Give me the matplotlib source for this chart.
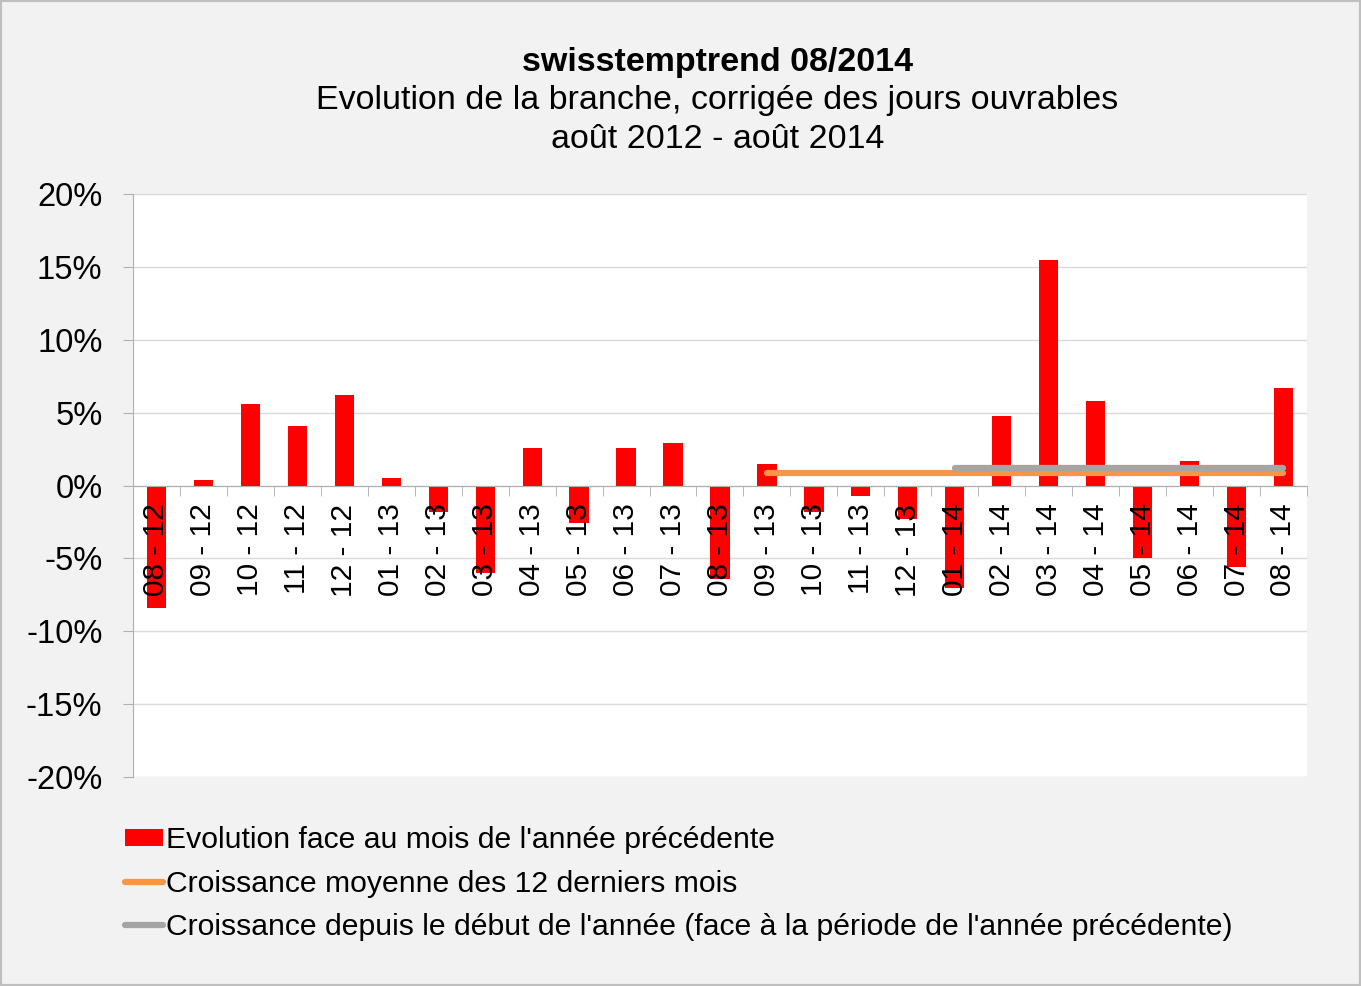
import matplotlib
matplotlib.use('Agg')
import matplotlib.pyplot as plt
from matplotlib.patches import Rectangle
from matplotlib.ticker import FixedLocator, FuncFormatter
import numpy as np

plt.rcParams['font.family'] = ['Liberation Sans', 'DejaVu Sans']

months = ['08 - 12', '09 - 12', '10 - 12', '11 - 12', '12 - 12', '01 - 13', '02 - 13',
          '03 - 13', '04 - 13', '05 - 13', '06 - 13', '07 - 13', '08 - 13', '09 - 13',
          '10 - 13', '11 - 13', '12 - 13', '01 - 14', '02 - 14', '03 - 14', '04 - 14',
          '05 - 14', '06 - 14', '07 - 14', '08 - 14']
evolution = [-8.4, 0.4, 5.6, 4.1, 6.2, 0.5, -1.8, -6.0, 2.6, -2.6, 2.6, 2.9, -6.4,
             1.5, -1.8, -0.7, -2.3, -7.0, 4.8, 15.5, 5.8, -5.0, 1.7, -5.6, 6.7]
avg12 = 0.86          # moyenne 12 derniers mois, 09-13 .. 08-14
ytd = 1.2             # depuis le debut de l'annee, 01-14 .. 08-14
avg12_from, ytd_from = '09 - 13', '01 - 14'

fig = plt.figure(figsize=(13.61, 9.86), dpi=100, facecolor='#f2f2f2')
fig.patches.append(Rectangle((0, 0), 1, 1, transform=fig.transFigure, fill=False,
                             edgecolor='#bfbfbf', linewidth=3))
ax = fig.add_axes([0.0977, 0.2120, 0.8626, 0.5912])
ax.set_facecolor('white')

yticks = np.arange(-20, 21, 5)
for yv in yticks:
    ax.axhline(yv, color='#d9d9d9', lw=1, zorder=0)

x = np.arange(len(months))
bars = ax.bar(x, evolution, width=0.41, color='#ff0000', zorder=1,
              label="Evolution face au mois de l'année précédente")
i0 = months.index(avg12_from)
l1, = ax.plot(x[i0:], [avg12] * len(x[i0:]), color='#f79646', lw=4.5, solid_capstyle='round',
              zorder=2, label='Croissance moyenne des 12 derniers mois')
i1 = months.index(ytd_from)
l2, = ax.plot(x[i1:], [ytd] * len(x[i1:]), color='#a5a5a5', lw=4.5, solid_capstyle='round',
              zorder=2, label="Croissance depuis le début de l'année (face à la période de l'année précédente)")

ax.set_xlim(-0.5, len(months) - 0.5)
ax.set_ylim(-20, 20)
ax.set_yticks(yticks)
ax.yaxis.set_major_formatter(FuncFormatter(lambda v, p: f'{int(v)}%'))

for s in ['top', 'right']:
    ax.spines[s].set_visible(False)
ax.spines['left'].set_color('#b0b0b0')
ax.spines['bottom'].set_color('#b0b0b0')
ax.spines['bottom'].set_position(('data', 0))

ax.set_xticks(x)
ax.set_xticklabels(months, rotation=90, fontsize=21.5)
ax.xaxis.set_minor_locator(FixedLocator(np.arange(-0.5, len(months), 1)))
ax.tick_params(axis='x', which='major', length=0, pad=13)
ax.tick_params(axis='x', which='minor', length=7, color='#b0b0b0', direction='out')
ax.tick_params(axis='y', length=7, color='#b0b0b0', labelsize=23.5, pad=15)
for lab in ax.get_xticklabels():
    lab.set_verticalalignment('top')

fig.text(0.527, 0.937, 'swisstemptrend 08/2014', ha='center', va='center',
         fontsize=24.5, fontweight='bold')
fig.text(0.527, 0.898, 'Evolution de la branche, corrigée des jours ouvrables',
         ha='center', va='center', fontsize=24.5)
fig.text(0.527, 0.859, 'août 2012 - août 2014', ha='center', va='center', fontsize=24.5)

fig.legend(handles=[bars, l1, l2], loc='upper left', bbox_to_anchor=(0.083, 0.174),
           frameon=False, fontsize=21.7, handlelength=1.25, handleheight=0.5,
           handletextpad=0.12, labelspacing=0.5, borderaxespad=0)

fig.savefig('out.png', dpi=100, facecolor=fig.get_facecolor())
